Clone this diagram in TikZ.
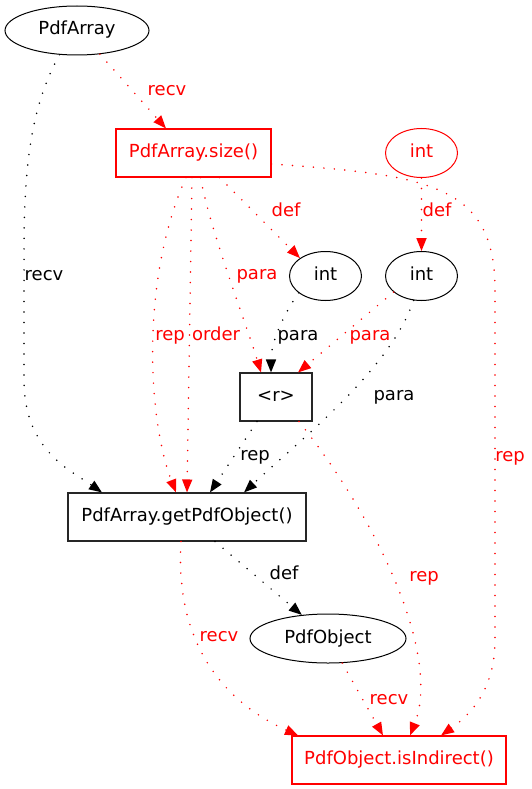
\documentclass[tikz,border=0pt]{standalone}
\usepackage{fontspec}
\setmainfont{DejaVu Sans}
\usetikzlibrary{shapes.geometric,arrows.meta}
\begin{document}
\begin{tikzpicture}[x=1pt,y=-1pt,
  every node/.style={font=\fontsize{18}{21}\selectfont, inner sep=0pt, text height=13pt, text depth=4pt},
  ell/.style={ellipse, draw, line width=1pt, minimum height=49pt},
  box/.style={rectangle, draw=black!85, line width=1.1pt, minimum height=48pt},
  redbox/.style={box, draw=red, text=red},
  edge/.style={line width=1.7pt, line cap=round, dash pattern=on 0pt off 10.5pt, -{Triangle[length=13pt,width=10pt]}},
  redge/.style={edge, red},
  rlab/.style={text=red}]
\useasboundingbox (0,0) rectangle (531,789);

% nodes
\node[ell, minimum width=144pt] (pa) at (77,30.5) {PdfArray};
\node[redbox, minimum width=155pt] (sz) at (193.5,153) {PdfArray.size()};
\node[ell, draw=red, text=red, minimum width=72pt] (ir) at (421.5,153) {int};
\node[ell, minimum width=72pt] (il) at (325.5,276) {int};
\node[ell, minimum width=72pt] (i2) at (421.5,276) {int};
\node[box, minimum width=72pt] (r) at (276,397) {<r>};
\node[box, minimum width=238pt] (gpo) at (187,517) {PdfArray.getPdfObject()};
\node[ell, minimum width=156pt] (po) at (328,638.5) {PdfObject};
\node[redbox, minimum width=214pt] (ii) at (399,760) {PdfObject.isIndirect()};

% edges
\draw[edge] (pa.-126) .. controls (35,100) and (24,150) .. (24,250) -- (24,380) .. controls (24,450) and (70,470) .. ([xshift=-85pt]gpo.north);
\draw[redge] (pa.-46) -- ([xshift=-27.5pt]sz.north);
\draw[redge] ([xshift=26pt]sz.south) -- (il.145);
\draw[redge] (ir) -- (i2);
\draw[redge] ([xshift=7pt]sz.south) .. controls (210,230) and (245,320) .. ([xshift=-15pt]r.north);
\draw[redge] ([xshift=-7.5pt]sz.south) .. controls (140,280) and (148,420) .. ([xshift=-11pt]gpo.north);
\draw[redge] ([xshift=-1.5pt]sz.south) -- (gpo.north);
\draw[redge] ([yshift=-11pt]sz.east) .. controls (430,175) and (495,185) .. (495,290) -- (495,640) .. controls (495,690) and (470,715) .. ([xshift=42pt]ii.north);
\draw[edge] (il.-148) .. controls (280,320) and (271,345) .. ([xshift=-5pt]r.north);
\draw[redge] (i2.-150) -- ([xshift=22pt]r.north);
\draw[edge] (i2.-108) .. controls (390,370) and (300,440) .. ([xshift=57pt]gpo.north);
\draw[edge] ([xshift=-19pt]r.south) -- ([xshift=23pt]gpo.north);
\draw[redge] ([xshift=23pt]r.south) .. controls (385,530) and (440,660) .. ([xshift=11pt]ii.north);
\draw[edge] ([xshift=28pt]gpo.south) -- (po.138);
\draw[redge] ([xshift=-6pt]gpo.south) .. controls (175,640) and (220,700) .. ([xshift=-101pt]ii.north);
\draw[redge] (po.-60) -- ([xshift=-16pt]ii.north);

% labels
\node (l1) at (44,276) {recv};
\node[rlab] (l2) at (167,91) {recv};
\node[rlab] (l3) at (286,212) {def};
\node[rlab] (l4) at (437,212) {def};
\node[rlab] (l5) at (257,275) {para};
\node[rlab] (l6) at (170,336) {rep};
\node[rlab] (l7) at (216,336) {order};
\node (l8) at (298,336) {para};
\node[rlab] (l9) at (370,336) {para};
\node (l10) at (394,396) {para};
\node (l11) at (255,456) {rep};
\node[rlab] (l12) at (510,457) {rep};
\node (l13) at (284,575) {def};
\node[rlab] (l14) at (424,577) {rep};
\node[rlab] (l15) at (219,637) {recv};
\node[rlab] (l16) at (389,700) {recv};
\end{tikzpicture}
\end{document}
